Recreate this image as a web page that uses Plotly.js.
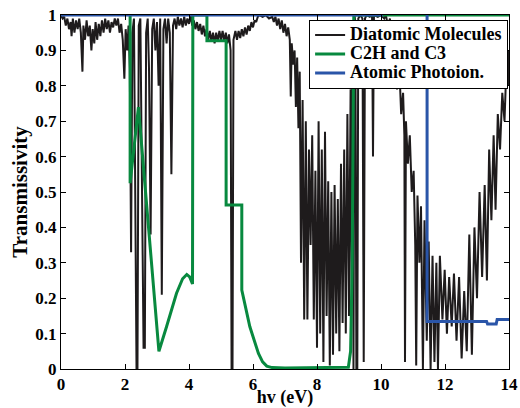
<!DOCTYPE html>
<html>
<head>
<meta charset="utf-8">
<script src="https://cdn.plot.ly/plotly-3.0.1.min.js"></script>
<style>html,body{margin:0;padding:0;background:#fff;}#chart{width:520px;height:408px;}</style>
</head>
<body>
<div id="chart"></div>
<script>
// Diatomic molecules transmissivity
const molX = [0.00,0.05,0.10,0.15,0.20,0.25,0.30,0.33,0.37,0.42,0.47,0.52,0.57,0.62,0.67,0.70,0.75,0.80,0.85,0.90,0.95,0.99,1.04,1.08,1.13,1.18,1.23,1.28,1.33,1.38,1.43,1.48,1.53,1.58,1.63,1.68,1.73,1.78,1.83,1.88,1.93,1.98,2.02,2.07,2.11,2.15,2.19,2.23,2.28,2.32,2.36,2.39,2.43,2.48,2.52,2.58,2.62,2.66,2.71,2.75,2.80,2.85,2.90,2.95,3.00,3.05,3.10,3.15,3.20,3.25,3.30,3.35,3.40,3.45,3.50,3.55,3.60,3.65,3.70,3.75,3.80,3.85,3.90,3.95,4.00,4.05,4.10,4.15,4.20,4.25,4.30,4.35,4.40,4.45,4.50,4.55,4.60,4.65,4.70,4.75,4.80,4.85,4.90,4.95,5.00,5.05,5.10,5.15,5.20,5.25,5.30,5.33,5.36,5.39,5.45,5.50,5.55,5.60,5.65,5.70,5.75,5.80,5.85,5.90,5.95,6.00,6.05,6.10,6.15,6.20,6.30,6.40,6.50,6.60,6.65,6.70,6.75,6.80,6.85,6.90,6.95,7.00,7.05,7.10,7.15,7.18,7.21,7.26,7.30,7.34,7.38,7.42,7.46,7.50,7.55,7.60,7.65,7.70,7.75,7.80,7.85,7.90,7.95,8.00,8.05,8.10,8.15,8.20,8.25,8.30,8.35,8.40,8.45,8.50,8.55,8.60,8.65,8.70,8.75,8.80,8.85,8.90,8.95,9.00,9.05,9.09,9.11,9.14,9.17,9.20,9.23,9.26,9.29,9.35,9.42,9.46,9.50,9.55,9.65,9.72,9.75,9.78,9.90,10.00,10.10,10.15,10.22,10.28,10.35,10.42,10.50,10.57,10.63,10.69,10.73,10.75,10.78,10.84,10.90,10.96,11.02,11.07,11.10,11.14,11.20,11.25,11.31,11.36,11.43,11.49,11.55,11.61,11.67,11.73,11.78,11.84,11.92,11.99,12.06,12.13,12.21,12.28,12.36,12.44,12.52,12.60,12.68,12.76,12.84,12.92,13.00,13.08,13.16,13.24,13.31,13.38,13.45,13.52,13.58,13.65,13.72,13.79,13.86,13.92,13.97,14.00];
const molY = [1.00,0.99,0.995,0.97,0.99,0.96,0.98,0.94,0.99,0.95,0.985,0.96,0.99,0.95,0.84,0.97,0.93,0.985,0.94,0.97,0.90,0.96,0.92,0.98,0.93,0.975,0.94,0.985,0.95,0.99,0.96,0.985,0.95,0.98,0.965,0.99,0.97,0.99,0.95,0.975,0.93,0.82,0.96,0.90,0.97,0.85,0.33,0.95,0.99,0.60,0.00,0.00,0.97,0.99,0.55,0.06,0.06,0.95,0.99,0.85,0.38,0.96,0.99,0.90,0.98,0.80,0.99,0.21,0.96,0.99,0.92,0.99,0.95,0.55,0.97,0.99,0.96,0.995,0.97,0.99,0.965,0.995,0.97,0.99,0.975,1.00,0.97,0.985,0.96,0.98,0.955,0.975,0.945,0.97,0.94,0.96,0.93,0.955,0.925,0.95,0.92,0.95,0.925,0.955,0.93,0.955,0.925,0.95,0.92,0.945,0.90,0.00,0.00,0.93,0.955,0.93,0.955,0.935,0.96,0.94,0.965,0.945,0.97,0.955,0.98,0.965,0.985,0.98,0.995,1.00,0.995,1.00,0.99,0.995,0.98,0.995,0.97,0.99,0.96,0.985,0.95,0.975,0.94,0.965,0.93,0.77,0.92,0.86,0.90,0.74,0.88,0.68,0.84,0.30,0.76,0.14,0.70,0.14,0.62,0.35,0.66,0.14,0.56,0.06,0.70,0.10,0.62,0.02,0.67,0.15,0.53,0.01,0.50,0.04,0.52,0.10,0.48,0.05,0.58,0.13,0.62,0.10,0.72,0.15,0.79,0.20,0.95,0.00,1.00,0.98,0.00,0.00,0.99,1.00,0.99,0.02,0.99,1.00,0.995,1.00,0.60,1.00,0.995,1.00,0.99,1.00,0.97,0.99,0.90,0.95,0.79,0.86,0.72,0.78,0.66,0.02,0.70,0.58,0.66,0.50,0.56,0.35,0.01,0.49,0.30,0.46,0.00,0.42,0.08,0.36,0.00,0.32,0.02,0.30,0.00,0.32,0.14,0.28,0.10,0.26,0.12,0.27,0.08,0.26,0.03,0.22,0.05,0.38,0.04,0.40,0.20,0.50,0.26,0.52,0.25,0.62,0.42,0.66,0.45,0.72,0.62,0.78,0.70,0.86,0.80,0.90];

// C2H and C3
const c2hX = [2.16,2.16,2.42,2.62,2.75,2.88,2.97,3.06,3.30,3.61,3.80,3.93,4.02,4.11,4.12,4.56,4.56,5.16,5.16,5.65,5.65,5.90,6.17,6.30,6.43,6.60,7.00,8.00,8.98,9.05,9.10,9.13,9.15,14.00];
const c2hY = [1.00,0.525,0.74,0.52,0.38,0.25,0.14,0.05,0.12,0.214,0.255,0.267,0.26,0.24,1.00,1.00,0.927,0.927,0.463,0.463,0.223,0.12,0.044,0.02,0.008,0.004,0.003,0.003,0.005,0.05,0.30,0.70,1.00,1.00];

// Atomic photoionization
const atomX = [0,10.06,null,11.44,11.44,13.30,13.33,13.60,13.63,14.00];
const atomY = [1,1,null,1,0.134,0.134,0.127,0.127,0.14,0.14];

const names = ['Diatomic Molecules','C2H and C3','Atomic Photoion.'];
const colors = ['#1e1b1c','#08893f','#2a55a8'];

const fontFam = 'Liberation Serif, Times New Roman, serif';
const legName = (s) => '<span style="font-size:18px">' + s + '</span>';

const traces = [
  {x: molX, y: molY, name: legName(names[0]), mode:'lines', line:{color:colors[0], width:2}},
  {x: c2hX, y: c2hY, name: legName(names[1]), mode:'lines', line:{color:colors[1], width:3}},
  {x: atomX, y: atomY, name: legName(names[2]), mode:'lines', line:{color:colors[2], width:3}, connectgaps:false}
];

const axisCommon = {
  showgrid:false, zeroline:false, showline:true, linecolor:'#000', linewidth:1,
  mirror:'ticks', ticks:'inside', ticklen:5, tickcolor:'#000',
  tickfont:{family:fontFam, size:17, weight:'bold', color:'#000'}
};

const layout = {
  width:520, height:408,
  margin:{l:61, r:11, t:15, b:39},
  paper_bgcolor:'#fff', plot_bgcolor:'#fff',
  font:{family:fontFam, color:'#000'},
  xaxis: Object.assign({}, axisCommon, {
    range:[0,14], dtick:2, tick0:0, ticklabelstandoff:0,
    title:{text:'hv (eV)', font:{family:fontFam, size:18, weight:'bold', color:'#000'}, standoff:2}
  }),
  yaxis: Object.assign({}, axisCommon, {
    range:[0,1], dtick:0.1, tick0:0,
    title:{text:'Transmissivity', font:{family:fontFam, size:21, weight:'bold', color:'#000'}, standoff:1}
  }),
  showlegend:true,
  legend:{
    x:0.998, xanchor:'right', y:0.987, yanchor:'top',
    bgcolor:'#fff', bordercolor:'#000', borderwidth:1,
    font:{family:fontFam, size:12, weight:'bold', color:'#000'},
    itemwidth:30, tracegroupgap:0
  }
};

Plotly.newPlot('chart', traces, layout, {displayModeBar:false, staticPlot:true});
</script>
</body>
</html>
